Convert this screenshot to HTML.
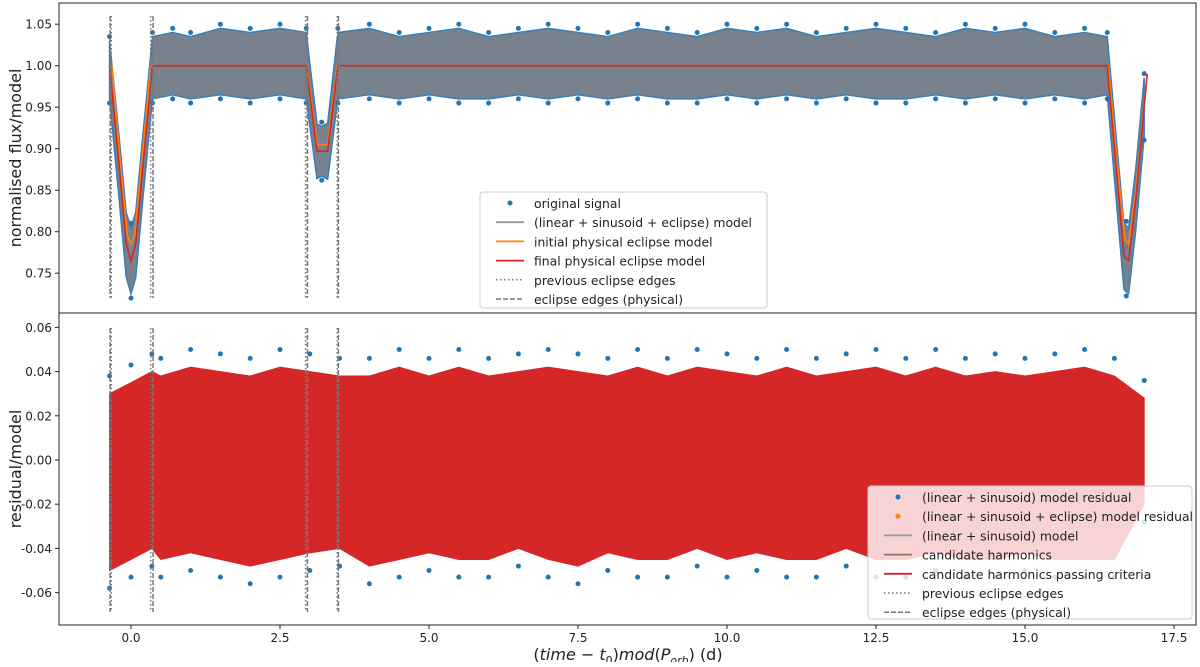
<!DOCTYPE html>
<html><head><meta charset="utf-8"><style>
body{margin:0;background:#fff;font-family:"Liberation Sans","DejaVu Sans",sans-serif}
svg text{font-family:"DejaVu Sans","Liberation Sans",sans-serif;fill:#222}
</style></head><body>
<svg id="c" width="1200" height="662" xmlns="http://www.w3.org/2000/svg"></svg>
<script>
// ---- data ----
const xTicks=[0,2.5,5,7.5,10,12.5,15,17.5];
const xTickLabels=["0.0","2.5","5.0","7.5","10.0","12.5","15.0","17.5"];
const topTicks=[0.75,0.80,0.85,0.90,0.95,1.00,1.05];
const botTicks=[-0.06,-0.04,-0.02,0.00,0.02,0.04,0.06];
const finalX=[-0.36,-0.2,-0.08,0,0.08,0.2,0.36,2.94,3.12,3.3,3.47,16.38,16.55,16.66,16.74,16.86,17.05];
const finalY=[1.0,0.88,0.785,0.765,0.785,0.88,1.0,1.0,0.897,0.897,1.0,1.0,0.86,0.77,0.765,0.84,0.99];
const initX=[-0.32,-0.2,-0.06,0,0.06,0.2,0.33,2.95,3.12,3.3,3.46,16.4,16.55,16.68,16.74,16.86,17.05];
const initY=[1.0,0.9,0.795,0.785,0.795,0.9,1.0,1.0,0.905,0.905,1.0,1.0,0.88,0.79,0.785,0.85,0.99];
const topEnvX=[-0.36,0,0.36,0.7,1,1.5,2,2.5,2.94,3.2,3.47,4,4.5,5,5.5,6,6.5,7,7.5,8,8.5,9,9.5,10,10.5,11,11.5,12,12.5,13,13.5,14,14.5,15,15.5,16,16.38,16.7,17.0];
const topUp=[0.03,0.04,0.035,0.04,0.035,0.045,0.04,0.045,0.04,0.03,0.04,0.045,0.035,0.04,0.045,0.035,0.04,0.045,0.04,0.035,0.045,0.04,0.035,0.045,0.04,0.045,0.035,0.04,0.045,0.04,0.035,0.045,0.04,0.045,0.035,0.04,0.035,0.04,0.035];
const topLo=[-0.04,-0.04,-0.04,-0.035,-0.04,-0.035,-0.04,-0.035,-0.04,-0.03,-0.04,-0.035,-0.04,-0.035,-0.04,-0.04,-0.035,-0.04,-0.035,-0.04,-0.035,-0.04,-0.04,-0.035,-0.04,-0.035,-0.04,-0.035,-0.04,-0.04,-0.035,-0.04,-0.035,-0.04,-0.035,-0.04,-0.035,-0.04,-0.035];
const resX=[-0.36,0,0.35,0.5,1,1.5,2,2.5,3,3.5,4,4.5,5,5.5,6,6.5,7,7.5,8,8.5,9,9.5,10,10.5,11,11.5,12,12.5,13,13.5,14,14.5,15,15.5,16,16.5,17.0];
const resUp=[0.03,0.035,0.04,0.038,0.042,0.04,0.038,0.042,0.04,0.038,0.038,0.042,0.038,0.042,0.038,0.04,0.042,0.04,0.038,0.042,0.038,0.042,0.04,0.038,0.042,0.038,0.04,0.042,0.038,0.042,0.038,0.04,0.038,0.04,0.042,0.038,0.028];
const resLo=[-0.05,-0.045,-0.04,-0.045,-0.042,-0.045,-0.048,-0.045,-0.042,-0.04,-0.048,-0.045,-0.042,-0.045,-0.045,-0.04,-0.045,-0.048,-0.042,-0.045,-0.045,-0.04,-0.045,-0.042,-0.045,-0.045,-0.04,-0.045,-0.045,-0.042,-0.045,-0.045,-0.042,-0.045,-0.045,-0.045,-0.02];
const prevEdges=[-0.33,0.33,2.93,3.46];
const physEdges=[-0.35,0.37,2.96,3.48];

const NS="http://www.w3.org/2000/svg";
const svg=document.getElementById('c');
const L=59,R=1196,T1=3,B1=313,T2=313,B2=625;
const X=v=>131+v*59.6;
const Y1=v=>65.7+(1.0-v)*830;
const Y2=v=>460-v*2210;
function el(t,a,p){const e=document.createElementNS(NS,t);for(const k in a)e.setAttribute(k,a[k]);(p||svg).appendChild(e);return e;}
function interp(xs,ys,x){if(x<=xs[0])return ys[0];for(let i=1;i<xs.length;i++)if(x<=xs[i]){const t=(x-xs[i-1])/(xs[i]-xs[i-1]);return ys[i-1]+t*(ys[i]-ys[i-1]);}return ys[ys.length-1];}
function modelAt(x){if(x<-0.36||x>17.1)return 1;return interp(finalX,finalY,x);}

const clip=el('defs',{});
const cp1=el('clipPath',{id:'cp1'},clip);el('rect',{x:L,y:T1,width:R-L,height:B1-T1},cp1);
const cp2=el('clipPath',{id:'cp2'},clip);el('rect',{x:L,y:T2,width:R-L,height:B2-T2},cp2);
const g1=el('g',{'clip-path':'url(#cp1)'});


const g2=el('g',{'clip-path':'url(#cp2)'});



{let up=[],lo=[];
 for(let x=-0.36;x<=17.0;x+=0.02){const m=modelAt(x);up.push(X(x)+','+Y1(m+interp(topEnvX,topUp,x)));lo.unshift(X(x)+','+Y1(m+interp(topEnvX,topLo,x)));}
 const p=el('polygon',{points:up.concat(lo).join(' '),fill:'#77828c',stroke:'#3a7fb8','stroke-width':1.5},g1);
 
 
 topEnvX.forEach((x,i)=>{const m=modelAt(x);
  const a=el('circle',{cx:X(x),cy:Y1(m+topUp[i]+0.005),r:2.5,fill:'#1f77b4'},g1);
  
  
  const b=el('circle',{cx:X(x),cy:Y1(m+topLo[i]-0.005),r:2.5,fill:'#1f77b4'},g1);
  
  });
}
function modelLine(xs,ys,col,name){
 const p=el('polyline',{points:xs.map((x,i)=>X(x)+','+Y1(ys[i])).join(' '),fill:'none',stroke:col,'stroke-width':1.6},g1);
 
 }
modelLine(initX,initY,'#ff7f0e','initial-physical-model');
modelLine(finalX,finalY,'#d62728','final-physical-model');

{let up=[],lo=[];
 resX.forEach((x,i)=>{up.push(X(x)+','+Y2(resUp[i]));lo.unshift(X(x)+','+Y2(resLo[i]));});
 const p=el('polygon',{points:up.concat(lo).join(' '),fill:'#d62728',stroke:'#d62728','stroke-width':1},g2);
 
 
 resX.forEach((x,i)=>{
  const a=el('circle',{cx:X(x),cy:Y2(resUp[i]+0.008),r:2.5,fill:'#1f77b4'},g2);
  
  
  const b=el('circle',{cx:X(x),cy:Y2(resLo[i]-0.008),r:2.5,fill:'#1f77b4'},g2);
  
  });
}
function edges(g,ya,yb){
 prevEdges.forEach(x=>{const l=el('line',{x1:X(x),x2:X(x),y1:ya,y2:yb,stroke:'#777','stroke-width':1.5,'stroke-dasharray':'1.5,2.5'},g);
  
  });
 physEdges.forEach(x=>{const l=el('line',{x1:X(x),x2:X(x),y1:ya,y2:yb,stroke:'#777','stroke-width':1.5,'stroke-dasharray':'5,2'},g);
  
  });}
edges(g1,16,298);edges(g2,328,612);

el('rect',{x:L,y:T1,width:R-L,height:B1-T1,fill:'none',stroke:'#222','stroke-width':1});
el('rect',{x:L,y:T2,width:R-L,height:B2-T2,fill:'none',stroke:'#222','stroke-width':1});
topTicks.forEach(v=>{el('line',{x1:L-4,x2:L,y1:Y1(v),y2:Y1(v),stroke:'#222'});
 const t=el('text',{x:L-7,y:Y1(v)+4.5,'font-size':12,'text-anchor':'end'});t.textContent=v.toFixed(2);
 
 });
botTicks.forEach(v=>{el('line',{x1:L-4,x2:L,y1:Y2(v),y2:Y2(v),stroke:'#222'});
 const t=el('text',{x:L-7,y:Y2(v)+4.5,'font-size':12,'text-anchor':'end'});t.textContent=v.toFixed(2);
 
 });
xTicks.forEach((v,i)=>{el('line',{x1:X(v),x2:X(v),y1:B2,y2:B2+4,stroke:'#222'});
 const t=el('text',{x:X(v),y:642,'font-size':12,'text-anchor':'middle'});t.textContent=xTickLabels[i];
 
 });
{const t=el('text',{x:0,y:0,'font-size':16,'text-anchor':'middle',transform:'translate(21,158) rotate(-90)'});t.textContent='normalised flux/model';
 
 const t2=el('text',{x:0,y:0,'font-size':16,'text-anchor':'middle',transform:'translate(21,469) rotate(-90)'});t2.textContent='residual/model';
 
 const t3=el('text',{x:628,y:660,'font-size':16,'text-anchor':'middle'});
 t3.innerHTML='(<tspan font-style="italic">time</tspan> − <tspan font-style="italic">t</tspan><tspan font-size="11" dy="4">0</tspan><tspan dy="-4">)</tspan><tspan font-style="italic">mod</tspan>(<tspan font-style="italic">P</tspan><tspan font-size="11" font-style="italic" dy="4">orb</tspan><tspan dy="-4">) (d)</tspan>';
 }

function legend(x,y,w,h,items,name,alpha){
 const g=el('g',{});
 el('rect',{x,y,width:w,height:h,rx:3,fill:'#fff','fill-opacity':alpha,stroke:'#ccc'},g);
 items.forEach((it,i)=>{const cy=y+11+i*19.2;
  if(it[0]==='dot')el('circle',{cx:x+30,cy,r:2.5,fill:it[1]},g);
  else el('line',{x1:x+16,x2:x+44,y1:cy,y2:cy,stroke:it[1],'stroke-width':it[0]==='line'?1.8:1.5,'stroke-dasharray':it[0]==='dot2'?'1.5,2.5':it[0]==='dash'?'5,2':''},g);
  const t=el('text',{x:x+54,y:cy+5,'font-size':12.4},g);t.textContent=it[2];
  });}
legend(480,192,287,116,[['dot','#1f77b4','original signal'],['line','#999','(linear + sinusoid + eclipse) model'],['line','#ff7f0e','initial physical eclipse model'],['line','#d62728','final physical eclipse model'],['dot2','#777','previous eclipse edges'],['dash','#777','eclipse edges (physical)']],'top-legend',0.8);
legend(868,486,324,133,[['dot','#1f77b4','(linear + sinusoid) model residual'],['dot','#ff7f0e','(linear + sinusoid + eclipse) model residual'],['line','#999','(linear + sinusoid) model'],['line','#a0706a','candidate harmonics'],['line','#d62728','candidate harmonics passing criteria'],['dot2','#777','previous eclipse edges'],['dash','#777','eclipse edges (physical)']],'bottom-legend',0.8);
</script>
</body></html>
